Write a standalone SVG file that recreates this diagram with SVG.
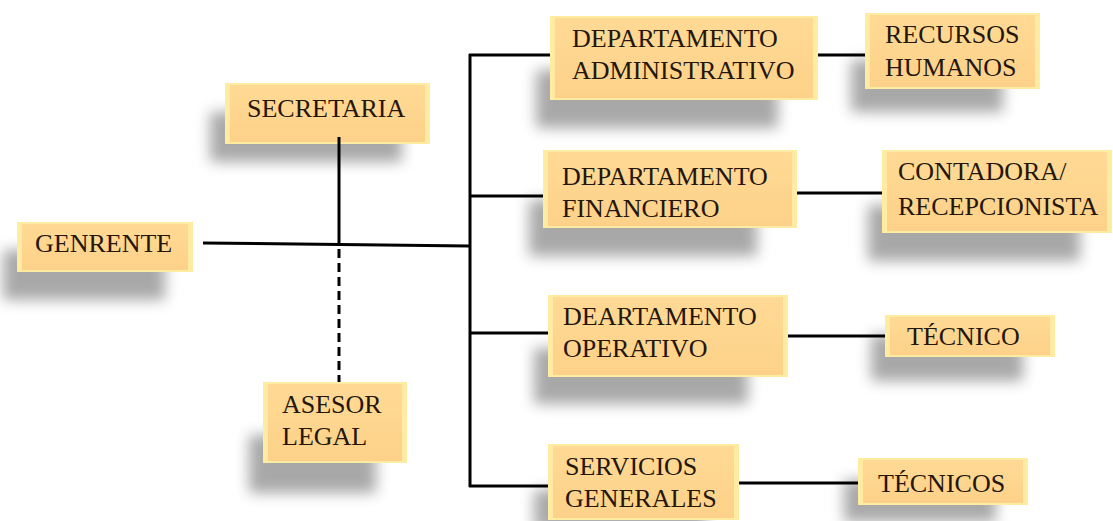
<svg xmlns="http://www.w3.org/2000/svg" width="1113" height="521" viewBox="0 0 1113 521">
<defs>
<filter id="sh" x="-30%" y="-60%" width="160%" height="220%">
<feGaussianBlur stdDeviation="7"/>
</filter>
<linearGradient id="face" x1="0" y1="0" x2="0" y2="1">
<stop offset="0" stop-color="#FFDA95"/>
<stop offset="1" stop-color="#FDD189"/>
</linearGradient>
</defs>
<style>
.shadow{fill:#707070;opacity:0.6;filter:url(#sh)}
.edge{fill:#FFEBA2}
.face{fill:url(#face)}
.t{font-family:'Liberation Serif','DejaVu Serif',serif;font-size:26px;fill:#24160a}
.ln{stroke:#000;stroke-width:3;fill:none}
.dash{stroke:#000;stroke-width:3;fill:none;stroke-dasharray:9,5}
</style>
<rect width="1113" height="521" fill="#fff"/>

<g id="shadows">
<rect class="shadow" x="3" y="250" width="162" height="50"/>
<rect class="shadow" x="210" y="112" width="192" height="50"/>
<rect class="shadow" x="536" y="70" width="242" height="58"/>
<rect class="shadow" x="851" y="60" width="152" height="52"/>
<rect class="shadow" x="529" y="200" width="228" height="56"/>
<rect class="shadow" x="868" y="205" width="212" height="56"/>
<rect class="shadow" x="534" y="348" width="214" height="56"/>
<rect class="shadow" x="871" y="335" width="152" height="46"/>
<rect class="shadow" x="249" y="435" width="127" height="58"/>
<rect class="shadow" x="534" y="490" width="172" height="40"/>
<rect class="shadow" x="844" y="480" width="152" height="42"/>
</g>

<g id="connectors">
<line class="ln" x1="339" y1="137" x2="339" y2="246"/>
<line class="dash" x1="339" y1="249" x2="339" y2="382"/>
<path class="ln" d="M203 243 L469 246"/>
<line class="ln" x1="470" y1="54" x2="470" y2="487"/>
<line class="ln" x1="469" y1="55" x2="550" y2="55"/>
<line class="ln" x1="469" y1="196" x2="543" y2="196"/>
<line class="ln" x1="469" y1="333" x2="548" y2="333"/>
<line class="ln" x1="469" y1="486" x2="548" y2="486"/>
<line class="ln" x1="818" y1="55" x2="865" y2="55"/>
<line class="ln" x1="797" y1="193" x2="882" y2="193"/>
<line class="ln" x1="788" y1="336" x2="885" y2="336"/>
<line class="ln" x1="739" y1="483" x2="858" y2="483"/>
</g>

<g id="genrente">
<rect class="edge" x="17" y="222" width="176" height="50"/>
<rect class="face" x="22" y="224" width="166" height="46"/>
<text class="t" x="35" y="252">GENRENTE</text>
</g>
<g id="secretaria">
<rect class="edge" x="225" y="83" width="205" height="61"/>
<rect class="face" x="230" y="85" width="195" height="57"/>
<text class="t" x="247" y="117">SECRETARIA</text>
<line class="ln" x1="339" y1="137" x2="339" y2="144"/>
</g>
<g id="asesor">
<rect class="edge" x="263" y="382" width="144" height="81"/>
<rect class="face" x="268" y="384" width="134" height="77"/>
<text class="t" x="282" y="413">ASESOR</text>
<text class="t" x="282" y="445">LEGAL</text>
</g>
<g id="dep-admin">
<rect class="edge" x="550" y="16" width="268" height="84"/>
<rect class="face" x="555" y="18" width="258" height="80"/>
<text class="t" x="572" y="47">DEPARTAMENTO</text>
<text class="t" x="572" y="79">ADMINISTRATIVO</text>
</g>
<g id="rrhh">
<rect class="edge" x="865" y="13" width="175" height="76"/>
<rect class="face" x="870" y="15" width="165" height="72"/>
<text class="t" x="885" y="43">RECURSOS</text>
<text class="t" x="885" y="76">HUMANOS</text>
</g>
<g id="dep-fin">
<rect class="edge" x="543" y="150" width="254" height="78"/>
<rect class="face" x="548" y="152" width="244" height="74"/>
<text class="t" x="562" y="185">DEPARTAMENTO</text>
<text class="t" x="562" y="217">FINANCIERO</text>
</g>
<g id="contadora">
<rect class="edge" x="882" y="150" width="230" height="83"/>
<rect class="face" x="887" y="152" width="220" height="79"/>
<text class="t" x="898" y="180">CONTADORA/</text>
<text class="t" x="898" y="215">RECEPCIONISTA</text>
</g>
<g id="dep-oper">
<rect class="edge" x="548" y="295" width="240" height="82"/>
<rect class="face" x="553" y="297" width="230" height="78"/>
<text class="t" x="563" y="325">DEARTAMENTO</text>
<text class="t" x="563" y="357">OPERATIVO</text>
</g>
<g id="tecnico">
<rect class="edge" x="885" y="315" width="170" height="42"/>
<rect class="face" x="890" y="317" width="160" height="38"/>
<text class="t" x="907" y="345">TÉCNICO</text>
</g>
<g id="servicios">
<rect class="edge" x="548" y="444" width="191" height="76"/>
<rect class="face" x="553" y="446" width="181" height="72"/>
<text class="t" x="565" y="475">SERVICIOS</text>
<text class="t" x="565" y="507">GENERALES</text>
</g>
<g id="tecnicos">
<rect class="edge" x="858" y="458" width="170" height="47"/>
<rect class="face" x="863" y="460" width="160" height="43"/>
<text class="t" x="878" y="492">TÉCNICOS</text>
</g>
</svg>
